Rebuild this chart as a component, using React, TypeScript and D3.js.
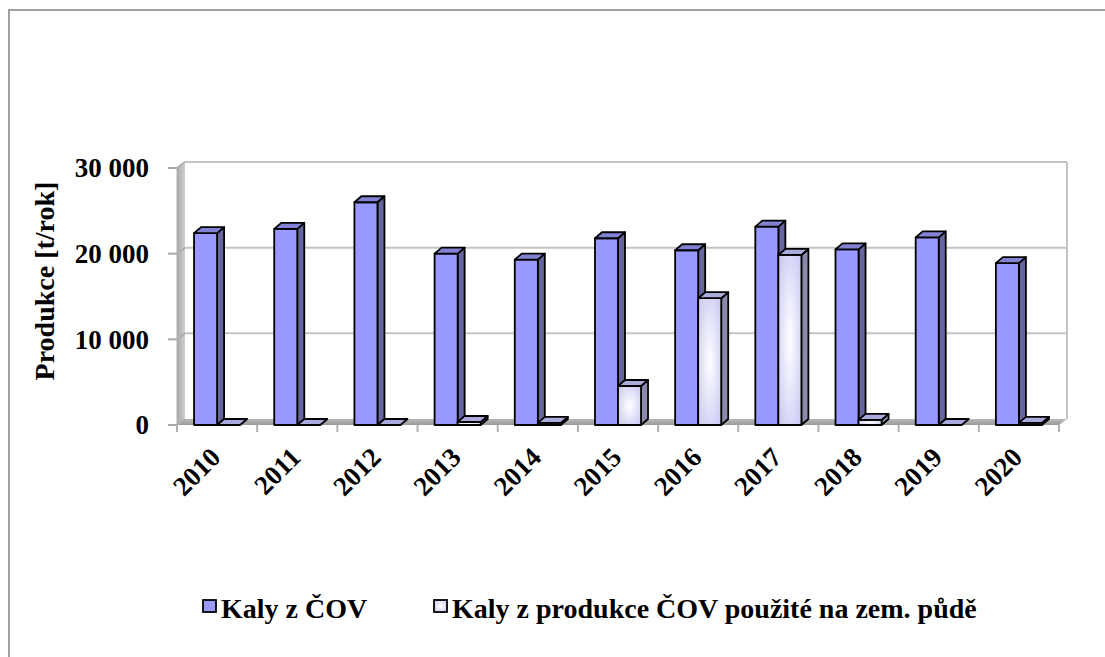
import React from "react";
import * as d3 from "d3";

const years = ["2010","2011","2012","2013","2014","2015","2016","2017","2018","2019","2020"];
const kalyCOV = [22400, 22900, 26000, 20000, 19300, 21800, 20400, 23150, 20500, 21900, 18900];
const kalyPuda = [0, 0, 0, 350, 250, 4550, 14800, 19850, 600, 0, 250];
const yTicks = [0, 10000, 20000, 30000];
const seriesNames = ["Kaly z ČOV", "Kaly z produkce ČOV použité na zem. půdě"];

const W = 1105, H = 657;
const X0 = 177, X1 = 1059;
const DX = 8, DY = -6; // wall depth
const BDX = 7, BDY = -6; // bar depth
const FONT = "'Liberation Serif', 'Times New Roman', serif";

const x = d3.scaleBand<string>().domain(years).range([X0, X1]).paddingInner(0).paddingOuter(0);
const inner = d3.scaleBand<string>().domain(["a", "b"]).range([0, x.bandwidth()]).paddingInner(0).paddingOuter(0.74);
const y = d3.scaleLinear().domain([0, 30000]).range([425, 168]);
const fmt = (v: number) => d3.format(",")(v).replace(/,/g, " ");

type Style = { front: string; side: string; top: string };
const blue: Style = { front: "#9999ff", side: "#66669f", top: "#8282d2" };
const light: Style = { front: "url(#lightGrad)", side: "#8a8aae", top: "#aaaadc" };

function Bar({ x0, w, v, st }: { x0: number; w: number; v: number; st: Style }) {
  const yb = y(0);
  const yt = y(v);
  const sw = 1.8;
  const top = `M${x0},${yt} L${x0 + BDX},${yt + BDY} L${x0 + w + BDX},${yt + BDY} L${x0 + w},${yt} Z`;
  if (yb - yt < 0.5) {
    return <path d={top} fill={st.top} stroke="#000" strokeWidth={sw} strokeLinejoin="round" />;
  }
  const side = `M${x0 + w},${yt} L${x0 + w + BDX},${yt + BDY} L${x0 + w + BDX},${yb + BDY} L${x0 + w},${yb} Z`;
  return (
    <g stroke="#000" strokeWidth={sw} strokeLinejoin="round">
      <path d={side} fill={st.side} />
      <rect x={x0} y={yt} width={w} height={yb - yt} fill={st.front} />
      <path d={top} fill={st.top} />
    </g>
  );
}

export default function App() {
  const bw = inner.bandwidth();
  const yb0 = y(0);
  return (
    <svg width={W} height={H} style={{ position: "absolute", left: 0, top: 0, background: "#fff" }} fontFamily={FONT}>
      <defs>
        <radialGradient id="lightGrad" cx="50%" cy="50%" r="75%">
          <stop offset="0%" stopColor="#ffffff" />
          <stop offset="100%" stopColor="#c2c2f2" />
        </radialGradient>
        <linearGradient id="wallGrad" x1="0" x2="1" y1="0" y2="0">
          <stop offset="0%" stopColor="#a8a8a8" />
          <stop offset="100%" stopColor="#d0d0d0" />
        </linearGradient>
        <linearGradient id="floorGrad" x1="0" x2="0" y1="0" y2="1">
          <stop offset="0%" stopColor="#b8b8b8" />
          <stop offset="100%" stopColor="#9a9a9a" />
        </linearGradient>
      </defs>
      {/* outer frame */}
      <rect x={9} y={10} width={1200} height={700} fill="none" stroke="#a0a0a0" strokeWidth={2} />

      {/* left wall */}
      <path d={`M${X0},${y(30000)} L${X0 + DX},${y(30000) + DY} L${X0 + DX},${yb0 + DY} L${X0},${yb0} Z`} fill="url(#wallGrad)" />
      {/* floor */}
      <path d={`M${X0},${yb0} L${X0 + DX},${yb0 + DY} L${X1 + DX},${yb0 + DY} L${X1},${yb0} Z`} fill="url(#floorGrad)" />
      {/* gridlines */}
      {yTicks.map((t) => (
        <g key={t} stroke="#c4c4c4" strokeWidth={2} fill="none">
          {t > 0 && <line x1={X0 + DX} x2={X1 + DX} y1={y(t) + DY} y2={y(t) + DY} />}
          <line x1={X0} x2={X0 + DX} y1={y(t)} y2={y(t) + DY} stroke="#b0b0b0" />
          <line x1={X0 - 9} x2={X0} y1={y(t)} y2={y(t)} stroke="#a8a8a8" />
        </g>
      ))}
      {/* back wall right edge */}
      <line x1={X1 + DX} x2={X1 + DX} y1={y(30000) + DY} y2={yb0 + DY} stroke="#c4c4c4" strokeWidth={2} />
      {/* front axis line */}
      <line x1={X0} x2={X0} y1={y(30000)} y2={yb0} stroke="#b0b0b0" strokeWidth={1} />
      {/* x ticks */}
      {years.map((yr, i) => (
        <line key={yr} x1={X0 + i * x.step()} x2={X0 + i * x.step()} y1={yb0} y2={yb0 + 7} stroke="#b0b0b0" strokeWidth={2} />
      ))}
      <line x1={X1} x2={X1} y1={yb0} y2={yb0 + 7} stroke="#b0b0b0" strokeWidth={2} />

      {/* bars */}
      {years.map((yr, i) => {
        const cx = x(yr)!;
        return (
          <g key={yr}>
            <Bar x0={cx + inner("a")!} w={bw} v={kalyCOV[i]} st={blue} />
            <Bar x0={cx + inner("b")!} w={bw} v={kalyPuda[i]} st={light} />
          </g>
        );
      })}

      {/* y tick labels */}
      {yTicks.map((t) => (
        <text key={t} x={149} y={y(t)} dy="0.35em" textAnchor="end" fontWeight="bold" fontSize={27}>
          {fmt(t)}
        </text>
      ))}
      {/* y axis title */}
      <text x={54} y={281} textAnchor="middle" fontWeight="bold" fontSize={28} transform="rotate(-90,54,281)">
        Produkce [t/rok]
      </text>
      {/* x labels */}
      {years.map((yr) => {
        const px = x(yr)! + x.bandwidth() / 2 + 5;
        const py = 459;
        return (
          <text key={yr} x={px} y={py} textAnchor="end" fontWeight="bold" fontSize={27} transform={`rotate(-45,${px},${py})`}>
            {yr}
          </text>
        );
      })}

      {/* legend */}
      <rect x={203} y={600} width={13} height={12} fill="#9999ff" stroke="#000" strokeWidth={1.8} />
      <text x={221} y={618} fontWeight="bold" fontSize={28}>{seriesNames[0]}</text>
      <rect x={434} y={600} width={13} height={12} fill="url(#lightGrad)" stroke="#000" strokeWidth={1.8} />
      <text x={452} y={618} fontWeight="bold" fontSize={28}>{seriesNames[1]}</text>
    </svg>
  );
}
